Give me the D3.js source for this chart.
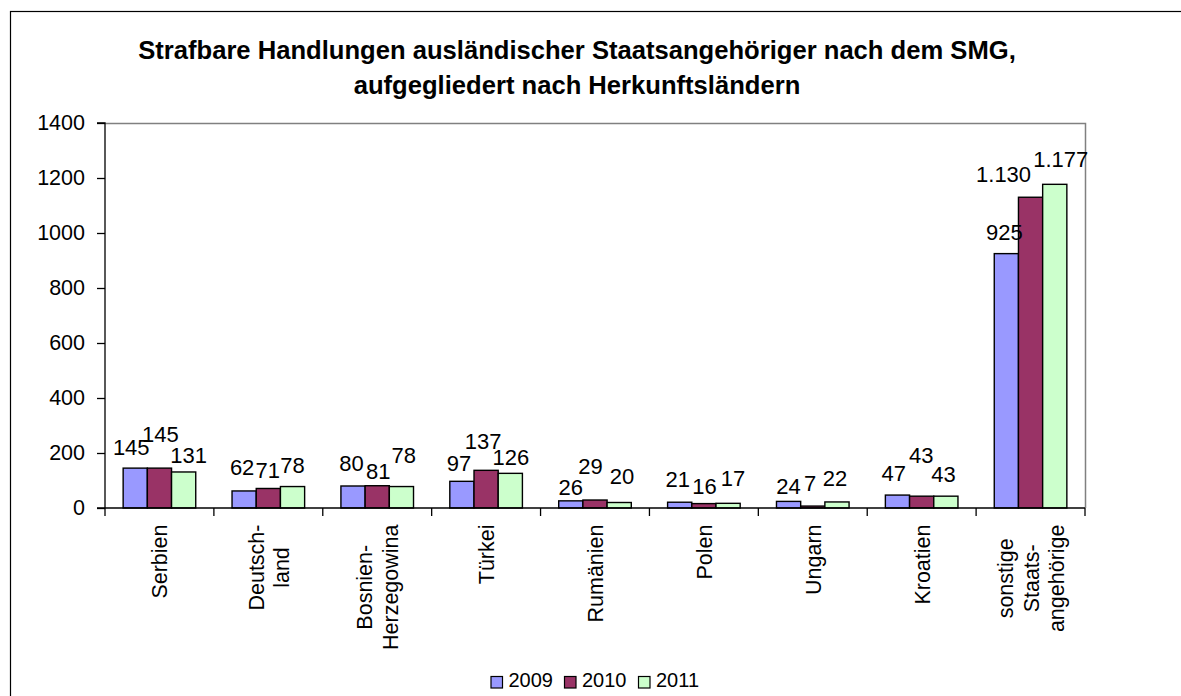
<!DOCTYPE html>
<html>
<head>
<meta charset="utf-8">
<script src="https://cdn.jsdelivr.net/npm/d3@7"></script>
<style>
  html, body { margin: 0; padding: 0; background: #fff; }
  svg { display: block; }
  text { font-family: "Liberation Sans", Arial, sans-serif; fill: #000; }
</style>
</head>
<body>
<svg id="chart" width="1181" height="696"></svg>
<script>
// ---- data ----
const titleLines = ["Strafbare Handlungen ausländischer Staatsangehöriger nach dem SMG,", "aufgegliedert nach Herkunftsländern"];
const categories = ["Serbien", "Deutschland", "Bosnien-Herzegowina", "Türkei", "Rumänien", "Polen", "Ungarn", "Kroatien", "sonstige Staatsangehörige"];
const categoryLabelLines = [["Serbien"], ["Deutsch-", "land"], ["Bosnien-", "Herzegowina"], ["Türkei"], ["Rumänien"], ["Polen"], ["Ungarn"], ["Kroatien"], ["sonstige", "Staats-", "angehörige"]];
const seriesNames = ["2009", "2010", "2011"];
const values2009 = [145, 62, 80, 97, 26, 21, 24, 47, 925];
const values2010 = [145, 71, 81, 137, 29, 16, 7, 43, 1130];
const values2011 = [131, 78, 78, 126, 20, 17, 22, 43, 1177];
const yTicks = [0, 200, 400, 600, 800, 1000, 1200, 1400];
const seriesColors = ["#9999FF", "#993366", "#CCFFCC"];

// label placement tweaks (layout only): horizontal shift and gap above bar
const labelDx = [[-4,1,5],[-2,-0.5,0],[-1.5,1,2.3],[-3,-3,0.6],[0,-4.5,2.7],[-2,0.7,5],[0,-2.6,-2],[-3.6,-0.5,-2.3],[-2,-27,6]];
const labelGap = [[13,26,9],[16,10,14],[15,7,24],[10,21,8],[6,26,19],[15.5,10,17.6],[7,15,16],[14,33.5,14.5],[14,15.5,17.6]];

const seriesValues = [values2009, values2010, values2011];

// ---- layout ----
const svg = d3.select("#chart");
const plot = { left: 105, right: 1085, top: 123, bottom: 508 };
const deFmt = d3.formatLocale({ decimal: ",", thousands: ".", grouping: [3], currency: ["", " €"] }).format(",d");

svg.append("rect").attr("x", 0).attr("y", 0).attr("width", 1181).attr("height", 696).attr("fill", "#fff");
svg.append("rect").attr("x", 10.5).attr("y", 11.5).attr("width", 1400).attr("height", 900)
  .attr("fill", "#fff").attr("stroke", "#000").attr("stroke-width", 1.2);

// title
svg.append("g").selectAll("text").data(titleLines).join("text")
  .attr("x", 577).attr("y", (d, i) => 59 + i * 35)
  .attr("text-anchor", "middle").attr("font-weight", "bold").attr("font-size", "25.6px")
  .text(d => d);

const x = d3.scaleBand().domain(categories).range([plot.left, plot.right]).padding(0);
const x1 = d3.scaleBand().domain(seriesNames).range([0, x.bandwidth()]).paddingInner(0).paddingOuter(0.75);
const y = d3.scaleLinear().domain([0, 1400]).range([plot.bottom, plot.top]);

// plot frame (top & right, grey)
svg.append("path")
  .attr("d", `M${plot.left},${plot.top + 0.5}H${plot.right + 0.5}V${plot.bottom}`)
  .attr("fill", "none").attr("stroke", "#808080").attr("stroke-width", 1.5);

// bars
const groups = svg.append("g").selectAll("g").data(categories).join("g")
  .attr("transform", d => `translate(${x(d)},0)`);
groups.selectAll("rect").data((d, i) => seriesNames.map((s, j) => ({ s, j, i, v: seriesValues[j][i] }))).join("rect")
  .attr("x", d => x1(d.s)).attr("width", x1.bandwidth())
  .attr("y", d => y(d.v)).attr("height", d => y(0) - y(d.v))
  .attr("fill", d => seriesColors[d.j]).attr("stroke", "#000").attr("stroke-width", 1.4);

// data labels
groups.selectAll("text.lbl").data((d, i) => seriesNames.map((s, j) => ({ s, j, i, v: seriesValues[j][i] }))).join("text")
  .attr("class", "lbl")
  .attr("x", d => x1(d.s) + x1.bandwidth() / 2 + labelDx[d.i][d.j])
  .attr("y", d => y(d.v) - labelGap[d.i][d.j])
  .attr("text-anchor", "middle").attr("font-size", "22px")
  .text(d => deFmt(d.v));

// y axis
const yAxis = svg.append("g").attr("transform", `translate(${plot.left},0)`)
  .call(d3.axisLeft(y).tickValues(yTicks).tickSize(8).tickPadding(12).tickFormat(d3.format("d")));
yAxis.select(".domain").attr("stroke", "#000").attr("stroke-width", 1.3).attr("d", `M-8,${plot.top}H0V${plot.bottom}`);
yAxis.selectAll(".tick line").attr("stroke", "#000").attr("stroke-width", 1.3);
yAxis.selectAll(".tick text").attr("font-size", "21.5px").attr("font-family", "Liberation Sans, Arial, sans-serif").attr("fill", "#000");

// x axis line + boundary ticks
const xAxis = svg.append("g").attr("transform", `translate(0,${plot.bottom})`)
  .call(d3.axisBottom(x).tickSize(0).tickFormat(""));
xAxis.select(".domain").attr("stroke", "#000").attr("stroke-width", 1.3).attr("d", `M${plot.left - 8},0H${plot.right}`);
xAxis.selectAll(".tick").remove();
const bounds = categories.map(c => x(c)).concat([x.range()[1]]);
xAxis.selectAll("line.bt").data(bounds).join("line").attr("class", "bt")
  .attr("x1", d => d).attr("x2", d => d).attr("y1", 0).attr("y2", 8)
  .attr("stroke", "#000").attr("stroke-width", 1.3);

// rotated category labels
const catFont = 21.5, lineStep = 25.6, labelTop = 524.5;
categories.forEach((c, i) => {
  const lines = categoryLabelLines[i];
  const g = svg.append("g").attr("transform", `translate(${x(c) + x.bandwidth() / 2},${labelTop}) rotate(-90)`);
  const t = g.selectAll("text").data(lines).join("text")
    .attr("font-size", catFont + "px").attr("text-anchor", "middle")
    .attr("y", (d, k) => 8 + (k - (lines.length - 1) / 2) * lineStep)
    .text(d => d);
  let maxW = 0;
  t.each(function () { maxW = Math.max(maxW, this.getComputedTextLength()); });
  t.attr("x", -maxW / 2);
});

// legend
const leg = svg.append("g");
const legX = [491, 564.5, 638.5];
seriesNames.forEach((s, j) => {
  leg.append("rect").attr("x", legX[j]).attr("y", 676.5).attr("width", 11.5).attr("height", 11.5)
    .attr("fill", seriesColors[j]).attr("stroke", "#000").attr("stroke-width", 1.2);
  leg.append("text").attr("x", legX[j] + 17.5).attr("y", 686.5).attr("font-size", "20px").text(s);
});
</script>
</body>
</html>
